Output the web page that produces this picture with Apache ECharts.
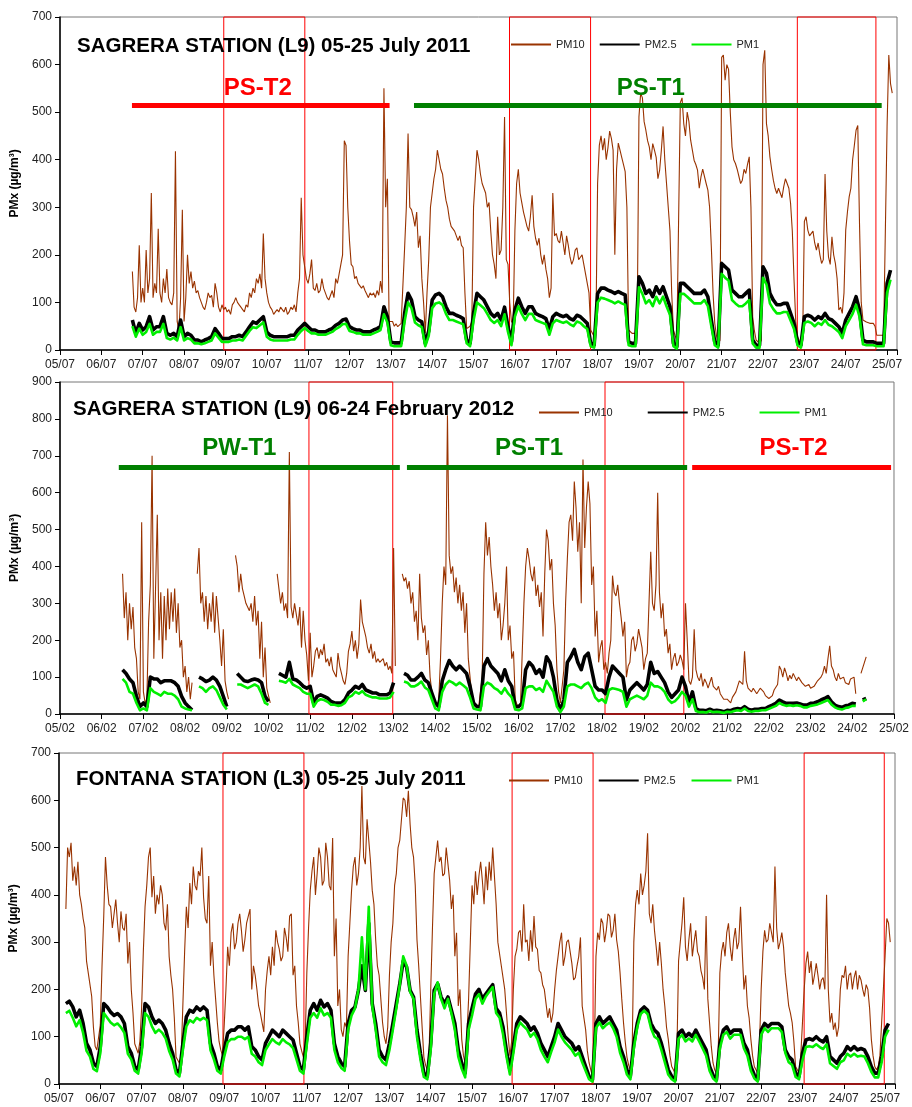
<!DOCTYPE html>
<html>
<head>
<meta charset="utf-8">
<script src="https://cdn.jsdelivr.net/npm/echarts@6/dist/echarts.min.js"></script>
<style>
  html, body { margin: 0; padding: 0; background: #fff; }
  #chart { width: 912px; height: 1107px; }
</style>
</head>
<body>
<div id="chart"></div>
<script>
// PMx concentrations (µg/m³); x is measured in days from the first tick date.
// PM10 is stored hourly, PM2.5 and PM1 every two hours.
const HOUR = 1 / 24;
const TWO_HOURS = 1 / 12;

const julyTicks = ['05/07','06/07','07/07','08/07','09/07','10/07','11/07','12/07','13/07','14/07','15/07',
  '16/07','17/07','18/07','19/07','20/07','21/07','22/07','23/07','24/07','25/07'];
const febTicks = ['05/02','06/02','07/02','08/02','09/02','10/02','11/02','12/02','13/02','14/02','15/02',
  '16/02','17/02','18/02','19/02','20/02','21/02','22/02','23/02','24/02','25/02'];

// ---- Sagrera (L9), July 2011: first reading 06/07 18:00 ----
const julyL9Start = 1.75;
const julyL9PM10 = [
  165,90,80,110,220,100,                                                                   // 06/07 18-23h
  130,100,210,120,150,330,110,140,120,255,120,100,150,120,170,110,100,95,120,418,60,40,110,295, // 07/07
  60,110,200,140,165,130,145,120,125,110,100,90,85,100,120,110,115,90,140,120,90,80,95,85,      // 08/07
  90,80,85,75,95,100,110,100,95,90,85,80,95,90,120,110,130,120,150,140,160,130,245,150,         // 09/07
  120,100,90,85,75,80,85,80,90,85,80,90,75,80,90,85,95,80,120,150,320,200,175,150,              // 10/07
  140,160,190,130,125,140,120,125,150,130,120,110,105,115,125,110,150,140,160,180,200,440,430,300, // 11/07
  230,180,175,150,155,140,140,130,135,125,125,110,120,115,120,110,125,115,145,120,550,300,360,60,  // 12/07
  56,60,50,55,49,50,56,60,215,300,455,300,295,280,260,290,215,240,150,100,35,120,190,300,        // 13/07
  330,360,380,420,400,380,370,340,315,300,275,260,260,250,240,230,240,220,215,120,45,42,50,60,   // 14/07
  300,360,420,400,370,350,350,330,300,310,250,200,180,150,280,200,210,300,490,190,180,100,60,55, // 15/07
  250,350,380,330,310,290,275,260,250,280,325,260,235,220,235,200,180,200,170,150,110,130,330,240, // 16/07
  245,230,225,250,225,200,240,220,195,180,190,210,215,190,195,200,180,160,140,120,42,35,28,40,   // 17/07
  350,430,450,420,445,400,425,460,445,420,200,380,435,420,405,390,375,300,42,40,35,38,35,60,     // 18/07
  490,540,530,480,462,440,427,400,434,420,405,360,378,420,470,400,350,300,250,120,42,30,21,25,   // 19/07
  520,530,476,450,500,480,441,420,399,390,378,340,364,380,378,350,336,300,217,120,56,30,14,20,   // 20/07
  615,620,567,600,590,500,427,400,392,380,378,350,357,380,371,390,406,300,70,40,21,18,14,20,     // 21/07
  600,630,476,450,406,380,357,340,329,340,336,320,343,360,364,340,308,250,147,60,28,20,14,20,    // 22/07
  270,280,252,240,238,250,225,210,225,200,182,190,370,250,196,180,238,200,182,150,84,90,77,120,  // 23/07
  252,290,322,340,400,430,462,472,266,100,63,60,59,57,56,58,56,50,31,30,31,32,31,30,             // 24/07
  470,620,560,540                                                                               // 25/07 00-03h
];
const julyL9PM25 = [
  63,35,56,
  42,49,70,42,49,49,70,35,31,35,28,63,
  28,35,31,21,21,17,21,24,28,45,35,24,
  24,24,28,28,31,28,38,49,59,56,63,70,
  38,31,28,28,28,28,28,31,31,42,49,56,
  49,42,42,38,38,38,42,45,52,56,63,65,
  49,45,42,42,38,38,38,42,45,49,91,70,
  17,15,15,15,77,119,105,70,63,59,14,40,
  105,116,119,112,91,77,77,73,70,66,21,14,
  77,119,112,105,91,77,70,77,63,90,49,17,
  84,109,91,77,91,91,77,73,70,66,42,70,
  77,73,70,73,66,63,73,70,63,56,14,10,
  119,130,130,126,123,119,123,119,116,17,14,14,
  154,140,119,126,112,133,119,133,112,91,14,7,
  140,140,133,126,119,119,119,126,112,63,17,10,
  182,175,168,126,119,112,112,119,126,21,10,10,
  175,161,119,105,95,95,98,98,77,56,17,10,
  70,73,70,63,70,66,77,66,63,56,49,35,
  63,77,91,112,84,21,17,17,17,14,14,14,
  140,168
];
const julyL9PM1 = [
  50,28,45,
  32,38,55,32,38,38,55,25,22,26,20,48,
  20,25,22,14,14,12,14,17,20,35,26,17,
  17,17,20,20,22,20,30,40,48,46,52,58,
  28,22,20,20,20,20,20,22,22,32,40,46,
  40,35,35,32,32,32,35,38,44,48,54,55,
  40,38,35,35,32,32,32,35,38,42,75,58,
  10,8,8,8,60,100,88,58,52,48,8,30,
  88,98,100,95,76,63,63,60,57,54,14,8,
  62,100,94,88,76,63,57,63,50,75,38,10,
  70,92,76,63,76,76,63,60,57,54,32,56,
  63,60,57,60,54,50,60,57,50,44,8,5,
  100,110,108,105,102,98,102,98,95,10,8,8,
  132,118,98,105,92,112,98,112,92,74,8,3,
  118,118,112,105,98,98,98,105,92,50,10,5,
  160,152,146,105,98,92,92,98,105,14,5,5,
  152,138,98,86,77,77,80,80,62,44,10,5,
  57,60,57,50,57,53,63,53,50,44,38,25,
  50,63,76,95,70,12,10,10,10,8,8,8,
  120,148
];
const julyL9Boxes = [[3.96, 5.92], [10.87, 12.83], [17.83, 19.73]];
const julyL9Phases = [
  { name: 'PS-T2', from: 1.74, to: 7.97 },
  { name: 'PS-T1', from: 8.56, to: 19.87 }
];

// ---- Sagrera (L9), February 2012: first reading 06/02 12:00 ----
const febL9Start = 1.5;
const febL9PM10 = [
  380,260,330,200,300,230,290,180,150,60,40,520,                                                 // 06/02 12-23h
  60,30,40,250,350,700,150,340,540,200,330,150,320,200,340,230,330,250,340,220,300,180,200,100,  // 07/02
  130,60,100,40,85,null,null,380,450,300,330,250,320,230,300,250,330,220,320,260,200,130,230,90, // 08/02
  60,40,null,null,null,430,400,330,380,340,320,300,290,280,300,250,320,240,280,150,250,100,180,70, // 09/02
  50,30,null,null,null,380,340,300,330,280,300,260,710,290,260,300,270,240,290,180,280,200,160,90, // 10/02
  220,100,130,170,180,150,175,160,190,140,150,130,155,120,110,100,165,130,110,90,80,110,170,190,  // 11/02
  225,170,200,150,190,310,250,230,210,180,165,190,150,170,140,150,140,135,150,130,140,120,130,110, // 12/02
  450,130,null,null,null,380,360,370,340,360,300,330,250,280,200,380,260,220,240,160,200,100,60,40, // 13/02
  30,20,40,150,300,400,350,810,430,380,400,330,370,300,350,280,330,220,300,150,100,50,30,20,      // 14/02
  25,20,20,100,380,520,430,480,400,350,280,330,260,300,200,240,300,400,200,240,150,170,40,25,     // 15/02
  20,20,25,300,400,450,420,380,360,400,320,350,290,330,210,380,500,470,390,420,300,240,120,60,    // 16/02
  30,25,120,300,420,520,540,470,630,560,440,520,300,690,450,560,630,570,350,400,210,280,140,180,  // 17/02
  200,120,140,110,165,200,375,330,320,350,300,260,210,250,100,130,140,200,210,170,190,230,230,180, // 18/02
  120,150,165,300,440,300,280,350,600,330,260,300,210,230,165,190,120,150,165,130,140,160,145,120, // 19/02
  300,200,90,80,100,230,120,100,90,110,75,95,85,70,85,100,75,80,65,75,55,60,40,45,               // 20/02
  40,35,30,45,40,60,75,90,85,80,170,90,70,65,60,70,65,55,60,70,65,60,50,55,                      // 21/02
  42,40,50,65,60,80,130,120,100,125,110,90,105,95,110,100,90,100,95,85,90,75,70,80,              // 22/02
  70,65,75,80,90,95,100,110,130,110,150,185,130,120,100,90,110,95,90,100,85,90,80,95,            // 23/02
  90,100,55,null,null,110,125,140,155                                                            // 24/02 00-08h
];
const febL9PM25 = [
  120,110,95,85,48,20,
  30,20,100,95,95,85,90,90,90,85,75,48,
  30,20,11,null,100,95,88,92,100,92,75,48,
  20,null,null,110,100,90,88,92,95,92,85,48,
  34,null,null,110,105,100,140,95,92,85,75,70,
  75,30,48,52,48,43,34,30,30,30,39,57,
  65,75,70,80,65,61,57,57,52,52,52,57,
  85,null,null,110,105,92,92,100,110,92,85,57,
  30,20,90,120,145,130,120,130,120,110,75,30,
  20,20,130,150,130,120,110,90,120,90,75,20,
  20,30,120,140,130,110,120,100,155,140,100,38,
  10,38,140,155,175,140,120,155,165,120,75,65,
  65,55,100,130,120,110,100,38,65,75,85,75,
  65,80,140,110,115,100,85,60,45,55,65,100,
  75,30,60,15,10,10,9,13,9,10,9,6,
  10,9,13,15,13,20,13,10,13,13,15,15,
  20,24,29,38,33,29,29,29,30,27,24,24,
  29,30,33,38,42,47,33,24,20,18,22,24,
  29,27,null,38,42
];
const febL9PM1 = [
  95,85,60,55,30,10,
  15,10,70,60,55,50,60,55,55,50,40,20,
  15,12,10,null,75,70,60,70,75,65,45,25,
  12,null,null,80,80,75,70,75,80,75,55,30,
  25,null,null,90,88,85,95,80,75,70,60,55,
  55,20,35,40,38,33,25,25,22,24,30,45,
  50,60,55,62,52,48,45,45,42,42,42,45,
  60,null,null,88,85,75,75,80,88,72,65,40,
  15,10,60,80,90,85,78,85,78,70,45,15,
  12,10,75,85,80,70,65,55,70,55,45,12,
  10,15,70,75,75,65,70,60,90,75,60,20,
  5,20,75,80,80,75,70,80,85,70,45,35,
  40,30,65,70,68,65,60,20,40,45,50,45,
  40,50,85,75,75,70,60,40,30,35,45,60,
  50,20,40,8,5,5,4,8,5,6,5,3,
  6,5,8,10,8,15,8,6,8,8,10,10,
  14,18,22,30,25,22,24,22,24,22,18,18,
  22,24,26,30,34,38,26,18,14,12,16,18,
  22,22,null,34,40
];
const febL9Boxes = [[5.97, 7.98], [13.07, 14.96]];
const febL9Phases = [
  { name: 'PW-T1', from: 1.41, to: 8.15 },
  { name: 'PS-T1', from: 8.32, to: 15.04 },
  { name: 'PS-T2', from: 15.16, to: 19.93 }
];

// ---- Fontana (L3), July 2011: first reading 05/07 04:00 ----
const julyL3Start = 4 / 24;
const julyL3PM10 = [
  370,500,480,510,430,460,420,470,400,380,350,330,260,235,210,185,120,80,72,75,                   // 05/07 04-23h
  125,250,355,480,420,380,375,330,360,390,340,300,365,330,325,360,255,300,200,150,85,75,65,90,    // 06/07
  160,280,375,420,480,500,395,440,360,400,380,420,400,340,325,380,270,230,200,140,57,60,44,60,    // 07/07
  170,280,375,330,425,380,460,420,410,450,440,500,395,350,340,440,250,300,230,180,130,90,72,60,   // 08/07
  125,200,290,250,320,340,285,300,340,360,325,280,305,340,340,370,200,250,230,200,165,150,130,110, // 09/07
  200,240,270,230,290,250,325,300,285,260,270,330,310,280,355,360,230,250,165,130,85,70,57,80,    // 10/07
  235,330,410,450,480,400,445,500,480,420,430,510,480,420,410,520,270,350,165,200,115,100,130,120, // 11/07
  270,340,410,460,480,420,445,500,630,480,465,560,560,470,410,380,305,250,230,180,130,100,85,120, // 12/07
  230,300,340,420,445,500,515,560,605,600,565,620,550,500,480,420,305,250,185,120,57,40,30,60,    // 13/07
  200,330,445,480,515,470,480,440,445,500,465,430,370,400,270,320,165,200,95,60,44,100,180,300,   // 14/07
  420,380,450,400,440,470,430,380,460,410,470,430,500,440,380,300,300,250,250,200,150,100,60,90,  // 15/07
  200,270,285,320,325,280,380,300,305,260,325,280,355,290,285,240,235,210,200,170,140,160,130,150, // 16/07
  200,240,270,300,320,250,270,300,305,280,255,220,225,250,270,310,165,140,115,70,45,30,16,50,     // 17/07
  270,320,305,350,340,300,325,360,355,310,325,360,305,280,235,180,130,90,57,40,30,60,300,380,     // 18/07
  410,380,445,400,420,450,530,360,340,380,325,290,250,300,255,200,165,120,95,60,37,30,23,60,      // 19/07
  260,300,340,395,290,260,305,340,270,300,325,280,270,240,225,200,355,180,130,80,45,30,23,60,     // 20/07
  235,280,300,270,320,340,290,260,305,330,285,300,375,280,200,230,165,140,95,60,37,30,23,80,      // 21/07
  200,280,325,300,305,340,340,300,460,330,285,300,320,290,235,200,165,150,130,90,37,30,23,60,     // 22/07
  130,200,255,280,235,260,210,230,255,230,200,220,225,200,400,200,130,150,115,130,100,120,200,230, // 23/07
  225,250,200,230,235,200,225,240,200,230,220,200,185,210,200,160,95,60,37,30,37,60,130,200,      // 24/07
  270,350,340,300                                                                                 // 25/07 00-03h
];
const julyL3PM25 = [
  170,175,163,142,156,128,86,72,44,37,
  79,170,163,152,145,149,142,128,79,65,37,30,
  79,170,163,142,128,135,128,114,86,65,30,23,
  86,142,156,152,163,156,163,156,86,65,37,30,
  72,107,114,114,121,121,114,121,79,72,58,51,
  86,100,114,107,100,114,107,100,93,65,37,30,
  100,156,170,156,177,163,170,156,86,58,44,37,
  128,156,163,198,250,198,340,170,128,72,58,51,
  86,128,170,212,260,247,198,184,114,65,23,16,
  86,198,212,184,170,184,156,128,72,44,23,128,
  160,190,200,180,190,200,210,160,150,120,70,30,
  79,128,142,135,128,114,121,107,86,72,58,79,
  100,128,114,100,93,86,72,79,58,37,16,9,
  128,142,128,135,142,128,114,79,58,30,16,86,
  128,156,163,156,128,114,107,86,58,30,16,9,
  107,114,100,107,100,114,100,86,72,37,19,9,
  86,114,121,107,114,114,114,86,72,37,19,9,
  114,128,121,128,128,128,121,72,58,51,23,16,
  65,93,96,93,100,93,89,100,58,51,44,58,
  65,79,72,79,72,75,72,58,37,23,23,58,
  114,128
];
const julyL3PM1 = [
  150,155,140,122,135,108,70,58,32,27,
  65,150,140,130,124,128,120,108,64,52,28,22,
  65,150,142,122,108,115,108,96,70,52,22,16,
  72,122,135,130,140,135,140,135,72,52,28,22,
  58,88,95,95,100,100,95,100,64,58,46,40,
  72,84,95,88,84,95,88,84,76,52,28,22,
  84,140,150,140,160,145,150,140,72,46,34,28,
  115,145,160,200,310,200,375,165,115,58,46,40,
  72,115,160,210,270,250,195,180,100,52,15,10,
  72,190,215,180,160,180,150,115,58,32,14,115,
  145,180,190,170,185,195,205,150,140,105,58,20,
  65,115,130,122,115,100,108,95,72,58,46,68,
  88,115,100,88,80,72,60,66,46,28,10,5,
  118,130,118,125,130,118,100,66,46,20,10,75,
  120,148,155,148,118,100,95,72,46,20,10,5,
  96,104,90,96,90,104,90,75,60,28,12,5,
  75,104,110,96,104,104,104,75,60,28,12,5,
  104,118,110,118,118,118,110,66,46,40,15,10,
  50,78,80,78,84,78,74,84,44,38,32,46,
  50,64,58,64,58,60,58,44,26,14,14,46,
  100,115
];
const julyL3Boxes = [[3.97, 5.93], [10.97, 12.93], [18.04, 19.98]];
const julyL3Phases = [];

// ---- Drawing ----
const FONT = "'Liberation Sans', Arial, Helvetica, sans-serif";
const COLORS = { PM10: '#993300', 'PM2.5': '#000000', PM1: '#00ee00' };
const PHASE_COLORS = { 'PS-T2': '#ff0000', 'PS-T1': '#008000', 'PW-T1': '#008000' };

const panels = [
  { title: 'SAGRERA STATION (L9) 05-25 July 2011', ticks: julyTicks, start: julyL9Start,
    pm10: julyL9PM10, pm25: julyL9PM25, pm1: julyL9PM1, boxes: julyL9Boxes, phases: julyL9Phases,
    yMax: 700, xMax: 20.24, grid: { left: 60, top: 17, right: 15, height: 333 },
    titlePos: { left: 77, top: 36 }, legend: { left: 510, top: 39, gap: 14 },
    barLevel: 515, labelShift: [[-3, -17], [3, -17]] },
  { title: 'SAGRERA STATION (L9) 06-24 February 2012', ticks: febTicks, start: febL9Start,
    pm10: febL9PM10, pm25: febL9PM25, pm1: febL9PM1, boxes: febL9Boxes, phases: febL9Phases,
    yMax: 900, xMax: 20, grid: { left: 60, top: 382, right: 15, height: 332 },
    titlePos: { left: 73, top: 399 }, legend: { left: 538, top: 407, gap: 34 },
    barLevel: 670, labelShift: [[-20, -18], [-18, -18], [2, -18]] },
  { title: 'FONTANA STATION (L3) 05-25 July 2011', ticks: julyTicks, start: julyL3Start,
    pm10: julyL3PM10, pm25: julyL3PM25, pm1: julyL3PM1, boxes: julyL3Boxes, phases: julyL3Phases,
    yMax: 700, xMax: 20.24, grid: { left: 59, top: 753, right: 17, height: 331 },
    titlePos: { left: 76, top: 769 }, legend: { left: 508, top: 775, gap: 15 },
    barLevel: 515, labelShift: [] }
];

function toPoints(start, step, values) {
  return values.map((v, i) => [start + i * step, v == null ? '-' : v]);
}

const option = {
  animation: false,
  backgroundColor: '#ffffff',
  textStyle: { fontFamily: FONT },
  title: [], legend: [], grid: [], xAxis: [], yAxis: [], series: []
};

panels.forEach((p, k) => {
  option.grid.push(Object.assign({ show: true, borderColor: '#777', borderWidth: 1, backgroundColor: '#fff' }, p.grid));
  option.title.push({
    text: p.title, left: p.titlePos.left, top: p.titlePos.top, padding: 0,
    textStyle: { fontSize: 20.5, fontWeight: 'bold', color: '#000', fontFamily: FONT }
  });
  option.legend.push({
    left: p.legend.left, top: p.legend.top, padding: 0, itemGap: p.legend.gap, itemWidth: 40, itemHeight: 10,
    selectedMode: false, data: ['PM10', 'PM2.5', 'PM1'],
    itemStyle: { opacity: 0 },
    textStyle: { fontSize: 11, color: '#222', fontFamily: FONT }
  });
  option.xAxis.push({
    type: 'value', gridIndex: k, min: 0, max: p.xMax, interval: 1,
    axisLine: { show: true, onZero: false, lineStyle: { color: '#000', width: 1.5 } },
    axisTick: { show: true, length: 5, lineStyle: { color: '#000' } },
    splitLine: { show: false },
    axisLabel: {
      margin: 9, fontSize: 12, color: '#222', fontFamily: FONT,
      formatter: v => (Math.abs(v - Math.round(v)) < 1e-6 ? p.ticks[Math.round(v)] : '')
    }
  });
  option.yAxis.push({
    type: 'value', gridIndex: k, min: 0, max: p.yMax, interval: 100,
    name: 'PMx (µg/m³)', nameLocation: 'middle', nameGap: 31,
    nameTextStyle: { fontSize: 12, fontWeight: 'bold', color: '#000', fontFamily: FONT },
    axisLine: { show: true, lineStyle: { color: '#000', width: 1.5 } },
    axisTick: { show: true, length: 5, lineStyle: { color: '#000' } },
    splitLine: { show: false },
    axisLabel: { margin: 8, fontSize: 12, color: '#222', fontFamily: FONT }
  });

  const base = { type: 'line', xAxisIndex: k, yAxisIndex: k, symbol: 'none', showSymbol: false,
    silent: true, emphasis: { disabled: true }, connectNulls: false };

  option.series.push(Object.assign({}, base, {
    name: 'PM10', data: toPoints(p.start, HOUR, p.pm10),
    lineStyle: { color: COLORS.PM10, width: 1.1 }, itemStyle: { color: COLORS.PM10 }
  }));
  option.series.push(Object.assign({}, base, {
    name: 'PM2.5', data: toPoints(p.start, TWO_HOURS, p.pm25),
    lineStyle: { color: COLORS['PM2.5'], width: 3.6, join: 'round' }, itemStyle: { color: COLORS['PM2.5'] }
  }));
  option.series.push(Object.assign({}, base, {
    name: 'PM1', data: toPoints(p.start, TWO_HOURS, p.pm1),
    lineStyle: { color: COLORS.PM1, width: 2.6, join: 'round' }, itemStyle: { color: COLORS.PM1 },
    markArea: {
      silent: true,
      itemStyle: { color: 'rgba(0,0,0,0)', borderColor: '#ff0000', borderWidth: 1 },
      data: p.boxes.map(b => [{ xAxis: b[0] }, { xAxis: b[1] }])
    },
    markLine: {
      silent: true, symbol: ['none', 'none'], animation: false,
      label: { show: false },
      data: p.phases.map(ph => [
        { coord: [ph.from, p.barLevel], lineStyle: { color: PHASE_COLORS[ph.name], width: 5, type: 'solid' } },
        { coord: [ph.to, p.barLevel] }
      ])
    },
    markPoint: {
      silent: true, symbol: 'rect', symbolSize: 1, animation: false,
      itemStyle: { color: 'rgba(0,0,0,0)' },
      data: p.phases.map((ph, j) => ({
        name: ph.name, coord: [(ph.from + ph.to) / 2, p.barLevel],
        label: {
          show: true, position: 'inside', formatter: '{b}', offset: p.labelShift[j],
          fontSize: 24, fontWeight: 'bold', color: PHASE_COLORS[ph.name], fontFamily: FONT
        }
      }))
    }
  }));
});

const chart = echarts.init(document.getElementById('chart'), null, { renderer: 'canvas' });
chart.setOption(option);
</script>
</body>
</html>
